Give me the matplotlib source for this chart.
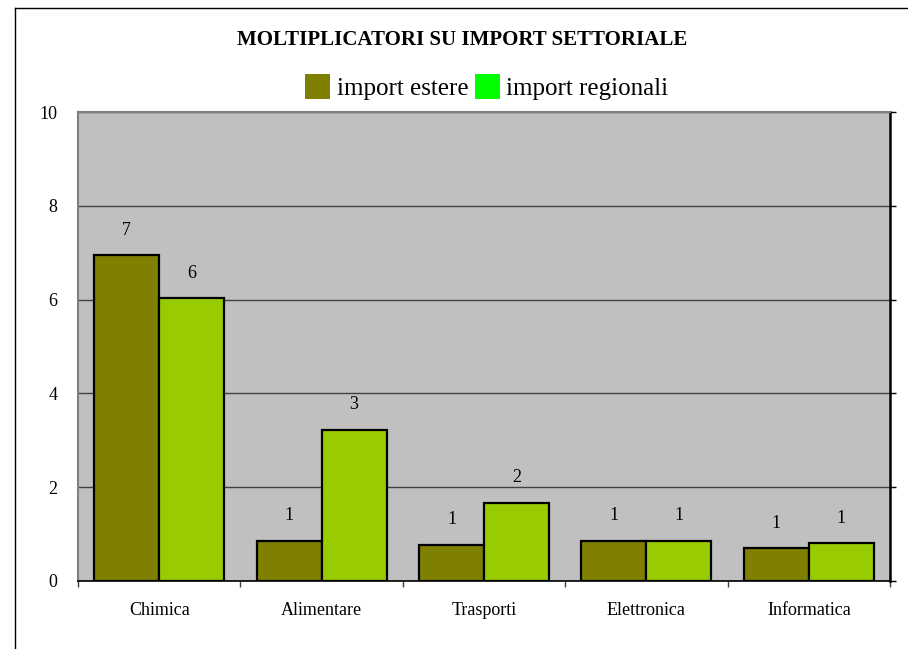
import numpy as np
import matplotlib.pyplot as plt
from matplotlib.patches import Patch
from matplotlib.lines import Line2D

# Data
categories = ['Chimica', 'Alimentare', 'Trasporti', 'Elettronica', 'Informatica']
import_estere = [6.95, 0.86, 0.77, 0.86, 0.70]
import_regionali = [6.03, 3.22, 1.67, 0.86, 0.80]
series_names = ['import estere', 'import regionali']

plt.rcParams['font.family'] = ['Liberation Serif', 'DejaVu Serif']

fig = plt.figure(figsize=(9.08, 6.49), dpi=100)
ax = fig.add_axes([0.0859, 0.1048, 0.8943, 0.7226])
ax.set_facecolor('#C0C0C0')

x = np.arange(len(categories))
w = 0.4
b1 = ax.bar(x - w / 2, import_estere, w, color='#808000', edgecolor='black',
            linewidth=1.6, zorder=3)
b2 = ax.bar(x + w / 2, import_regionali, w, color='#99CC00', edgecolor='black',
            linewidth=1.6, zorder=3)

# rounded value labels above the bars
for bars, vals in [(b1, import_estere), (b2, import_regionali)]:
    for rect, v in zip(bars, vals):
        ax.annotate(str(int(round(v))), (rect.get_x() + rect.get_width() / 2, v),
                    xytext=(0, 18), textcoords='offset points',
                    ha='center', va='center', fontsize=13)

ax.set_xlim(-0.5, len(categories) - 0.5)
ax.set_ylim(0, 10)
ax.set_yticks([0, 2, 4, 6, 8, 10])
ax.yaxis.grid(True, color='#404040', linewidth=1.0, zorder=1)
ax.set_axisbelow(True)

ax.set_xticks(x)
ax.set_xticklabels(categories, fontsize=13)
ax.set_xticks(np.arange(len(categories) + 1) - 0.5, minor=True)
ax.tick_params(axis='x', which='major', length=0, pad=15)
ax.tick_params(axis='x', which='minor', length=4, width=1, color='#404040', direction='out')
ax.tick_params(axis='y', which='major', left=False, right=True, labelleft=True,
               length=4, width=1, color='black', pad=11, labelsize=13)

for side in ['left', 'top']:
    ax.spines[side].set_color('#808080')
    ax.spines[side].set_linewidth(1.5)
ax.spines['right'].set_color('black')
ax.spines['right'].set_linewidth(1.8)
ax.spines['bottom'].set_color('black')
ax.spines['bottom'].set_linewidth(1.2)

fig.text(0.509, 0.938, 'MOLTIPLICATORI SU IMPORT SETTORIALE', ha='center', va='center',
         fontsize=15, fontweight='bold')

handles = [Patch(facecolor='#808000', edgecolor='none'),
           Patch(facecolor='#00FF00', edgecolor='none')]
fig.legend(handles, series_names, loc='center', bbox_to_anchor=(0.536, 0.866),
           ncol=2, frameon=False, fontsize=18, handlelength=1.0, handleheight=1.15,
           handletextpad=0.25, columnspacing=0.25, borderpad=0)

# outer chart frame
fig.add_artist(Line2D([15 / 908, 15 / 908], [0, 1 - 8 / 649], color='black', linewidth=1))
fig.add_artist(Line2D([15 / 908, 1], [1 - 8 / 649, 1 - 8 / 649], color='black', linewidth=1))

fig.savefig('out.png', dpi=100, facecolor='white')
